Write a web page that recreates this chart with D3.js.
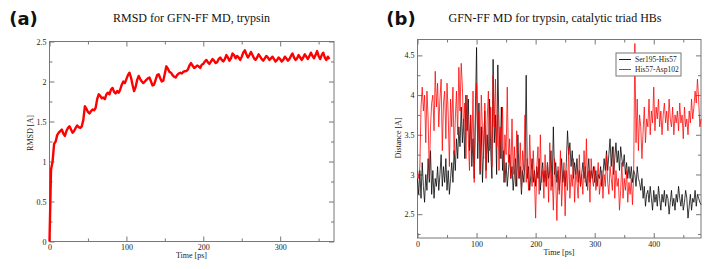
<!DOCTYPE html>
<html>
<head>
<meta charset="utf-8">
<script src="https://cdn.jsdelivr.net/npm/d3@7"></script>
<style>
  body { margin: 0; background: #fff; }
  svg { display: block; }
  .tick text { font-family: "Liberation Serif", serif; font-size: 8px; fill: #222; }
  .tick line { stroke: #777; }
  .label { font-family: "Liberation Serif", serif; font-size: 8px; fill: #222; }
  .title { font-family: "Liberation Serif", serif; font-size: 12px; fill: #111; }
  .panel-tag { font-family: "DejaVu Sans", sans-serif; font-size: 18px; font-weight: bold; fill: #111; }
</style>
</head>
<body>
<svg id="chart" width="713" height="269"></svg>
<script>
// (a) RMSD, one value every 2 ps
const rmsdStep = 2;
const rmsd = [
  0.00, 0.90, 1.00, 1.22, 1.25, 1.33, 1.36, 1.38, 1.40, 1.35,
  1.32, 1.38, 1.42, 1.44, 1.40, 1.36, 1.38, 1.42, 1.45, 1.43,
  1.42, 1.44, 1.52, 1.69, 1.66, 1.62, 1.60, 1.63, 1.65, 1.64,
  1.67, 1.78, 1.84, 1.82, 1.79, 1.80, 1.78, 1.84, 1.86, 1.84,
  1.90, 1.92, 1.87, 1.85, 1.88, 1.86, 1.90, 1.96, 2.00, 1.98,
  2.03, 2.08, 2.11, 2.05, 1.96, 1.88, 1.93, 2.02, 2.07, 2.03,
  2.00, 1.98, 2.00, 2.02, 2.04, 2.05, 2.00, 1.95, 1.96, 2.02,
  2.08, 2.09, 2.04, 2.00, 2.01, 2.10, 2.19, 2.16, 2.12, 2.11,
  2.08, 2.06, 2.05, 2.08, 2.10, 2.11, 2.10, 2.12, 2.13, 2.13,
  2.15, 2.20, 2.23, 2.20, 2.17, 2.18, 2.20, 2.19, 2.17, 2.21,
  2.22, 2.25, 2.27, 2.24, 2.22, 2.25, 2.28, 2.26, 2.23, 2.24,
  2.28, 2.30, 2.27, 2.25, 2.28, 2.33, 2.30, 2.26, 2.29, 2.35,
  2.33, 2.29, 2.32, 2.30, 2.27, 2.31, 2.36, 2.39, 2.34, 2.30,
  2.33, 2.37, 2.33, 2.29, 2.27, 2.30, 2.34, 2.31, 2.28, 2.26,
  2.29, 2.32, 2.30, 2.27, 2.29, 2.31, 2.28, 2.25, 2.27, 2.30,
  2.28, 2.25, 2.27, 2.31, 2.29, 2.26, 2.28, 2.32, 2.35, 2.30,
  2.27, 2.29, 2.33, 2.30, 2.27, 2.30, 2.34, 2.31, 2.28, 2.32,
  2.36, 2.32, 2.29, 2.33, 2.38, 2.32, 2.28, 2.33, 2.36, 2.30,
  2.27, 2.31, 2.28
];

// (b) catalytic triad H-bond distances, one value every 2 ps
const hbStep = 2;
const hbNames = ["Ser195-His57", "His57-Asp102"];
const hbColors = ["#000000", "#ff0000"];
const serHis = [
  2.95, 2.75, 3.05, 2.70, 3.15, 2.85, 2.65, 3.00, 2.80, 3.20,
  2.90, 3.30, 2.75, 3.05, 2.70, 2.95, 2.85, 3.10, 2.80, 3.00,
  3.25, 2.85, 3.10, 2.90, 3.20, 2.80, 3.05, 2.75, 2.95, 3.15,
  2.90, 3.30, 3.05, 3.45, 3.20, 3.60, 3.35, 3.85, 3.40, 3.70,
  3.20, 4.00, 3.55, 3.95, 3.30, 3.75, 3.10, 3.45, 2.95, 3.80,
  4.60, 3.20, 3.90, 3.00, 3.60, 2.90, 3.35, 3.80, 3.05, 3.50,
  3.15, 3.95, 3.30, 2.95, 4.45, 3.40, 3.75, 3.00, 4.38, 3.60,
  3.20, 3.85, 3.05, 3.30, 2.90, 3.15, 2.85, 3.05, 3.25, 2.95,
  3.10, 2.80, 3.00, 3.20, 2.85, 3.50, 2.95, 3.10, 2.75, 3.05,
  2.90, 3.15, 4.25, 2.95, 3.10, 2.80, 3.00, 3.20, 2.90, 3.05,
  2.85, 3.10, 2.95, 3.20, 2.80, 3.00, 3.15, 2.90, 3.05, 2.85,
  3.15, 2.95, 3.05, 3.30, 2.85, 3.60, 3.00, 3.15, 2.90, 3.05,
  2.80, 3.00, 3.20, 2.90, 3.05, 2.85, 3.15, 3.55, 3.25, 3.40,
  3.10, 3.30, 2.95, 3.15, 3.00, 3.20, 2.90, 3.05, 2.85, 3.00,
  3.15, 2.95, 3.10, 2.85, 3.00, 3.20, 2.90, 3.05, 2.95, 3.10,
  2.90, 3.05, 2.85, 3.00, 2.95, 3.10, 2.85, 3.00, 3.20, 3.05,
  3.30, 3.05, 3.25, 3.45, 3.10, 3.35, 3.00, 3.20, 3.40, 3.15,
  3.30, 3.05, 3.35, 3.20, 3.10, 3.25, 3.00, 3.15, 2.95, 3.10,
  2.95, 3.10, 2.90, 3.05, 3.00, 2.85, 3.10, 2.95, 2.90, 2.80,
  2.95, 2.70, 2.85, 2.60, 2.75, 2.80, 2.65, 2.85, 2.70, 2.55,
  2.80, 2.65, 2.75, 2.60, 2.85, 2.70, 2.55, 2.75, 2.65, 2.80,
  2.60, 2.75, 2.70, 2.50, 2.65, 2.80, 2.60, 2.70, 2.55, 2.75,
  2.65, 2.85, 2.70, 2.60, 2.75, 2.55, 2.65, 2.80, 2.70, 2.45,
  2.60, 2.75, 2.55, 2.70, 2.65, 2.80, 2.60, 2.75, 2.70, 2.65,
  2.62
];
const hisAsp = [
  3.05, 2.95, 3.10, 3.85, 4.10, 3.80, 4.00, 3.40, 4.05, 3.70,
  2.95, 3.60, 3.90, 4.00, 3.55, 4.30, 3.85, 4.15, 3.60, 3.95,
  4.20, 3.30, 3.90, 4.05, 3.45, 4.15, 3.75, 3.10, 3.95, 3.60,
  4.10, 3.25, 3.70, 4.05, 3.50, 4.35, 3.80, 4.40, 4.10, 3.55,
  3.90, 3.20, 4.00, 3.45, 3.05, 3.75, 3.30, 4.05, 2.90, 3.60,
  4.15, 3.40, 3.80, 3.05, 4.00, 3.55, 3.20, 3.90, 2.95, 3.70,
  4.05, 3.30, 3.85, 3.10, 4.25, 3.60, 4.20, 3.35, 3.75, 3.05,
  3.60, 3.20, 3.85, 2.90, 3.50, 3.25, 4.10, 3.15, 3.45, 2.95,
  3.70, 3.00, 3.35, 2.85, 3.55, 3.10, 2.95, 3.40, 2.80, 3.30,
  3.05, 3.75, 2.90, 3.20, 2.80, 3.50, 3.05, 2.85, 3.30, 2.95,
  2.45, 3.10, 3.35, 2.75, 3.50, 2.90, 3.05, 2.70, 3.25, 2.85,
  3.15, 2.65, 3.40, 2.80, 3.00, 2.55, 3.20, 2.95, 2.42, 3.10,
  2.75, 3.30, 2.60, 2.95, 3.15, 2.48, 3.05, 2.80, 3.35, 2.70,
  3.00, 2.85, 3.20, 2.65, 3.05, 2.90, 2.70, 3.25, 2.85, 3.00,
  2.75, 3.30, 2.90, 3.45, 2.80, 3.05, 2.65, 3.20, 2.95, 2.85,
  3.10, 2.80, 2.95, 3.15, 2.75, 2.90, 3.05, 2.70, 3.00, 2.85,
  3.25, 2.90, 2.75, 3.10, 2.95, 2.80, 3.35, 2.70, 3.05, 2.85,
  2.95, 2.55, 2.80, 3.15, 2.70, 2.95, 2.80, 3.05, 2.65, 2.90,
  2.75, 2.95, 2.62, 3.00, 4.65, 3.40, 3.95, 3.30, 3.75, 3.60,
  3.20, 3.55, 3.85, 3.40, 3.70, 3.60, 3.95, 3.50, 3.80, 3.65,
  4.10, 3.55, 3.85, 3.70, 3.95, 3.60, 3.80, 3.50, 3.75, 3.90,
  3.65, 3.80, 3.55, 3.95, 3.70, 3.60, 3.85, 3.50, 3.75, 3.65,
  3.80, 3.55, 3.90, 3.65, 3.75, 3.45, 3.85, 3.60, 3.70, 3.50,
  3.80, 3.65, 3.95, 3.70, 3.85, 4.05, 3.90, 4.20, 3.95, 3.60,
  3.70
];

const svg = d3.select('#chart');
svg.append('rect').attr('width', 713).attr('height', 269).attr('fill', '#fff');

// frame with inward ticks on all four sides, like xmgrace
function drawFrame(x, y, xMajor, xMinor, yMajor, yMinor, yFmt) {
  let [x0, x1] = x.range();
  let [y0, y1] = y.range();
  let g = svg.append('g');
  let axes = [
    [d3.axisBottom(x), `translate(0,${y0})`, xMajor, xMinor, d3.format('d')],
    [d3.axisTop(x), `translate(0,${y1})`, xMajor, xMinor, null],
    [d3.axisLeft(y), `translate(${x0},0)`, yMajor, yMinor, yFmt],
    [d3.axisRight(y), `translate(${x1},0)`, yMajor, yMinor, null],
  ];
  axes.forEach(([ax, tr, major, minor, fmt]) => {
    g.append('g').attr('transform', tr)
      .call(ax.tickValues(minor).tickSize(-3).tickFormat(''))
      .call((s) => s.select('.domain').remove());
    g.append('g').attr('transform', tr)
      .call(ax.tickValues(major).tickSize(-5).tickPadding(3).tickFormat(fmt || (() => '')))
      .call((s) => s.select('.domain').remove());
  });
  g.append('rect')
    .attr('x', x0).attr('y', y1)
    .attr('width', x1 - x0).attr('height', y0 - y1)
    .attr('fill', 'none').attr('stroke', '#777').attr('stroke-width', 1);
}

function addText(cls, x, y, text, rotate) {
  let t = svg.append('text').attr('class', cls)
    .attr('text-anchor', 'middle')
    .text(text);
  if (rotate) t.attr('transform', `translate(${x},${y}) rotate(-90)`);
  else t.attr('x', x).attr('y', y);
  return t;
}

// ---- panel (a)
let xa = d3.scaleLinear().domain([0, 370]).range([49.5, 334]);
let ya = d3.scaleLinear().domain([0, 2.5]).range([241.5, 41.5]);
drawFrame(xa, ya,
  [0, 100, 200, 300], d3.range(50, 370, 100),
  [0, 0.5, 1, 1.5, 2, 2.5], d3.range(0.25, 2.5, 0.5),
  (d) => d3.format('')(d));

svg.append('path')
  .datum(rmsd)
  .attr('fill', 'none')
  .attr('stroke', '#ff0000')
  .attr('stroke-width', 2.4)
  .attr('stroke-linejoin', 'round')
  .attr('d', d3.line().x((d, i) => xa(i * rmsdStep)).y((d) => ya(d)));

addText('panel-tag', 23.5, 25, '(a)');
addText('title', 191.5, 22, 'RMSD for GFN-FF MD, trypsin');
addText('label', 191.5, 258, 'Time [ps]');
addText('label', 33, 133, 'RMSD [A]', true);

// ---- panel (b)
let xb = d3.scaleLinear().domain([0, 480]).range([417.5, 701]);
let yb = d3.scaleLinear().domain([2.2, 4.7]).range([238, 39.5]);
drawFrame(xb, yb,
  [0, 100, 200, 300, 400], d3.range(50, 480, 100),
  [2.5, 3, 3.5, 4, 4.5], d3.range(2.25, 4.7, 0.5),
  (d) => d3.format('')(d));

[serHis, hisAsp].forEach((series, k) => {
  svg.append('path')
    .datum(series)
    .attr('fill', 'none')
    .attr('stroke', hbColors[k])
    .attr('stroke-width', 0.9)
    .attr('stroke-opacity', 0.85)
    .attr('d', d3.line().x((d, i) => xb(i * hbStep)).y((d) => yb(d)));
});

addText('panel-tag', 401, 25, '(b)');
addText('title', 555, 22, 'GFN-FF MD for trypsin, catalytic triad HBs');
addText('label', 559, 254.5, 'Time [ps]');
addText('label', 401, 138, 'Distance [A]', true);

// legend
let legend = svg.append('g').attr('transform', 'translate(616,53)');
legend.append('rect')
  .attr('width', 65).attr('height', 23)
  .attr('fill', '#fff').attr('stroke', '#777').attr('stroke-width', 1);
hbNames.forEach((name, k) => {
  let row = legend.append('g').attr('transform', `translate(0,${6.5 + k * 10})`);
  row.append('line')
    .attr('x1', 3).attr('x2', 15)
    .attr('stroke', hbColors[k]).attr('stroke-width', 0.9);
  row.append('text')
    .attr('class', 'label')
    .attr('x', 19).attr('dy', '0.33em')
    .style('font-size', '7.5px')
    .text(name);
});
</script>
</body>
</html>
